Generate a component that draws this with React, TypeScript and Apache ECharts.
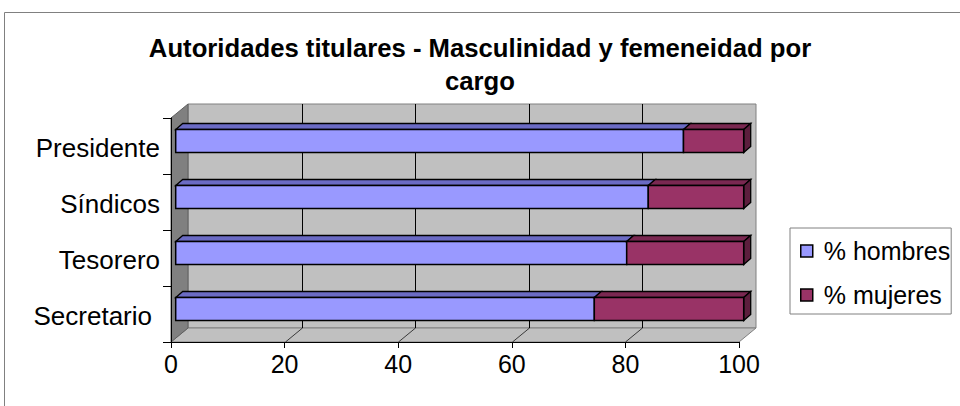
import React, { useEffect, useRef } from "react";
import * as echarts from "echarts";

const categories = ["Presidente", "Síndicos", "Tesorero", "Secretario"];
const hombres = [89.4, 83.2, 79.4, 73.7];
const mujeres = [10.6, 16.8, 20.6, 26.3];
const xTicks = [0, 20, 40, 60, 80, 100];
const seriesNames = ["% hombres", "% mujeres"];
const titleText = "Autoridades titulares - Masculinidad y femeneidad por\ncargo";

const FONT = "'Liberation Sans', Arial, sans-serif";
const WALL_DX = 17;
const WALL_DY = -14;
const BAR_OX = 4.7;
const BAR_OY = -5;
const BAR_DX = 7;
const BAR_DY = -6;

type Colors = { front: string; top: string; side: string };

function makeBarRender(colors: Colors, drawSide: boolean) {
  return (params: any, api: any) => {
    const start = api.value(0);
    const end = api.value(1);
    const cat = api.value(2);
    const p0 = api.coord([start, cat]);
    const p1 = api.coord([end, cat]);
    const band = api.size([0, 1])[1];
    const h = band * 0.41;
    const x0 = p0[0] + BAR_OX;
    const x1 = p1[0] + BAR_OX;
    const yc = p0[1] + BAR_OY;
    const yt = yc - h / 2;
    const yb = yc + h / 2;
    const children: any[] = [
      {
        type: "polygon",
        shape: {
          points: [
            [x0, yt],
            [x1, yt],
            [x1 + BAR_DX, yt + BAR_DY],
            [x0 + BAR_DX, yt + BAR_DY],
          ],
        },
        style: { fill: colors.top, stroke: "#000", lineWidth: 1.3 },
      },
    ];
    if (drawSide) {
      children.push({
        type: "polygon",
        shape: {
          points: [
            [x1, yt],
            [x1 + BAR_DX, yt + BAR_DY],
            [x1 + BAR_DX, yb + BAR_DY],
            [x1, yb],
          ],
        },
        style: { fill: colors.side, stroke: "#000", lineWidth: 1.3 },
      });
    }
    children.push({
      type: "rect",
      shape: { x: x0, y: yt, width: x1 - x0, height: yb - yt },
      style: { fill: colors.front, stroke: "#000", lineWidth: 1.5 },
    });
    return { type: "group", children };
  };
}

function renderWalls(params: any, api: any) {
  const cs = params.coordSys;
  const L = cs.x;
  const T = cs.y;
  const R = cs.x + cs.width;
  const B = cs.y + cs.height;
  const dx = WALL_DX;
  const dy = WALL_DY;
  const children: any[] = [
    {
      type: "polygon",
      shape: { points: [[L + dx, T + dy], [R + dx, T + dy], [R + dx, B + dy], [L + dx, B + dy]] },
      style: { fill: "#C0C0C0", stroke: "#808080", lineWidth: 1 },
    },
    {
      type: "polygon",
      shape: { points: [[L, B], [R, B], [R + dx, B + dy], [L + dx, B + dy]] },
      style: { fill: "#C0C0C0", stroke: "#808080", lineWidth: 1 },
    },
    {
      type: "polygon",
      shape: { points: [[L, T], [L + dx, T + dy], [L + dx, B + dy], [L, B]] },
      style: { fill: "#808080", stroke: "#606060", lineWidth: 1 },
    },
  ];
  xTicks.forEach((v) => {
    if (v === 0 || v === xTicks[xTicks.length - 1]) return;
    const x = Math.round(api.coord([v, 0])[0]) + 0.5;
    children.push({
      type: "line",
      shape: { x1: x + dx, y1: T + dy, x2: x + dx, y2: B + dy },
      style: { stroke: "#000", lineWidth: 1 },
    });
    children.push({
      type: "line",
      shape: { x1: x, y1: B, x2: x + dx, y2: B + dy },
      style: { stroke: "#000", lineWidth: 1, opacity: 0.7 },
    });
  });
  return { type: "group", children };
}

export default function App() {
  const ref = useRef<HTMLDivElement>(null);
  useEffect(() => {
    if (!ref.current) return;
    const chart = echarts.init(ref.current, undefined, { renderer: "svg" });
    const hombresData = categories.map((_, i) => [0, hombres[i], i]);
    const mujeresData = categories.map((_, i) => [hombres[i], hombres[i] + mujeres[i], i]);
    chart.setOption({
      animation: false,
      backgroundColor: "#fff",
      title: {
        text: titleText,
        left: "center",
        top: 26,
        textStyle: {
          fontFamily: FONT,
          fontSize: 25.7,
          fontWeight: "bold",
          color: "#000",
          lineHeight: 33,
        },
      },
      legend: {
        orient: "vertical",
        left: 790,
        top: 228,
        data: seriesNames,
        icon: "rect",
        itemWidth: 12,
        itemHeight: 12,
        itemGap: 14,
        padding: [8, 1, 4, 10],
        borderColor: "#808080",
        borderWidth: 1,
        backgroundColor: "#fff",
        itemStyle: { borderColor: "#000", borderWidth: 1.5 },
        textStyle: {
          fontFamily: FONT,
          fontSize: 25,
          color: "#000",
          lineHeight: 30,
          padding: [0, 0, 0, 6],
        },
      },
      graphic: [
        {
          type: "rect",
          shape: { x: 4.5, y: 12.5, width: 1000, height: 500 },
          style: { fill: "none", stroke: "#808080", lineWidth: 1 },
          silent: true,
          z: -10,
        },
      ],
      grid: { left: 171, right: 221, top: 118, bottom: 64, containLabel: false },
      xAxis: {
        type: "value",
        min: 0,
        max: 100,
        interval: 20,
        z: 10,
        splitLine: { show: false },
        axisLine: { show: true, lineStyle: { color: "#000", width: 1 } },
        axisTick: { show: true, length: 6, lineStyle: { color: "#000" } },
        axisLabel: { fontFamily: FONT, fontSize: 25, color: "#000", margin: 9 },
      },
      yAxis: {
        type: "category",
        data: categories,
        inverse: true,
        z: 10,
        axisLine: { show: true, lineStyle: { color: "#000", width: 1 } },
        axisTick: { show: true, length: 8, lineStyle: { color: "#000" } },
        axisLabel: {
          fontFamily: FONT,
          fontSize: 26,
          color: "#000",
          margin: 11,
          padding: [4, 0, 0, 0],
          formatter: (v: string) =>
            v === categories[categories.length - 1] ? "{s|" + v + "}" : v,
          rich: {
            s: { fontFamily: FONT, fontSize: 26, color: "#000", padding: [0, 8, 0, 0] },
          },
        },
        splitLine: { show: false },
      },
      series: [
        {
          type: "custom",
          name: "walls",
          z: 1,
          silent: true,
          renderItem: renderWalls,
          data: [[0, 0]],
          encode: { x: 0, y: 1 },
        },
        {
          type: "custom",
          name: seriesNames[0],
          z: 3,
          itemStyle: { color: "#9999FF", borderColor: "#000", borderWidth: 1.5 },
          renderItem: makeBarRender({ front: "#9999FF", top: "#6B6BC4", side: "#5A5A99" }, false),
          data: hombresData,
          encode: { x: [0, 1], y: 2 },
        },
        {
          type: "custom",
          name: seriesNames[1],
          z: 3,
          itemStyle: { color: "#993366", borderColor: "#000", borderWidth: 1.5 },
          renderItem: makeBarRender({ front: "#993366", top: "#7A2851", side: "#5C1E3D" }, true),
          data: mujeresData,
          encode: { x: [0, 1], y: 2 },
        },
      ],
    });
    return () => chart.dispose();
  }, []);
  return (
    <div
      ref={ref}
      style={{ position: "absolute", left: 0, top: 0, width: 960, height: 406 }}
    />
  );
}
